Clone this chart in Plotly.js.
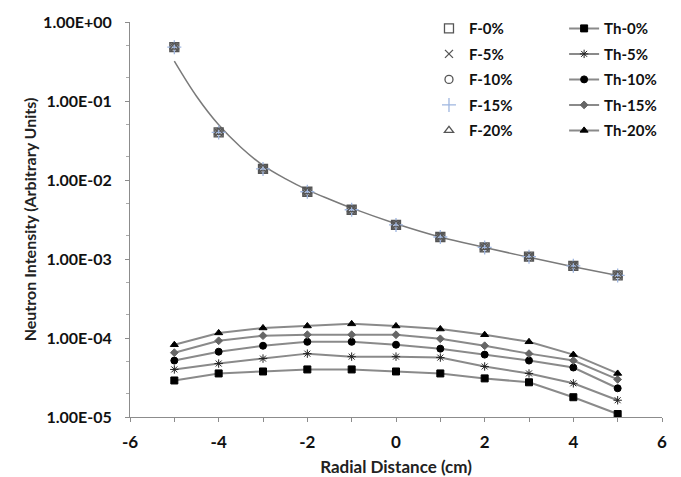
<!DOCTYPE html>
<html>
<head>
<meta charset="utf-8">
<script src="https://cdn.plot.ly/plotly-3.0.1.min.js"></script>
<style>html,body{margin:0;padding:0;background:#fff;}#chart{width:681px;height:477px;}</style>
</head>
<body>
<div id="chart"></div>
<script>
// Radial positions (cm)
const radial = [-5, -4, -3, -2, -1, 0, 1, 2, 3, 4, 5];

// Fast-neutron series (all nearly identical)
const f0  = [0.48, 0.040, 0.0138, 0.0071, 0.0042, 0.0027, 0.00190, 0.00140, 0.00107, 0.00082, 0.00062];
const f5  = [0.48, 0.040, 0.0138, 0.0071, 0.0042, 0.0027, 0.00190, 0.00140, 0.00107, 0.00082, 0.00062];
const f10 = [0.48, 0.040, 0.0138, 0.0071, 0.0042, 0.0027, 0.00190, 0.00140, 0.00107, 0.00082, 0.00062];
const f15 = [0.48, 0.040, 0.0138, 0.0071, 0.0042, 0.0027, 0.00190, 0.00140, 0.00107, 0.00082, 0.00062];
const f20 = [0.48, 0.040, 0.0138, 0.0071, 0.0042, 0.0027, 0.00190, 0.00140, 0.00107, 0.00082, 0.00062];

// Trend curve
const trendX = [-5, -4.5, -4, -3.5, -3, -2.5, -2, -1.5, -1, 0, 1, 2, 3, 4, 5];
const trendY = [0.32, 0.115, 0.050, 0.026, 0.0153, 0.0104, 0.0075, 0.0057, 0.0044, 0.0028, 0.0019, 0.0014, 0.00105, 0.00080, 0.00062];

// Thermal-neutron series
const th0  = [2.9e-5, 3.56e-5, 3.77e-5, 4.0e-5, 4.0e-5, 3.77e-5, 3.56e-5, 3.08e-5, 2.75e-5, 1.78e-5, 1.09e-5];
const th5  = [4.0e-5, 4.75e-5, 5.49e-5, 6.34e-5, 5.81e-5, 5.81e-5, 5.65e-5, 4.36e-5, 3.56e-5, 2.67e-5, 1.63e-5];
const th10 = [5.18e-5, 6.71e-5, 7.98e-5, 8.95e-5, 8.95e-5, 8.22e-5, 7.33e-5, 6.16e-5, 5.18e-5, 4.23e-5, 2.31e-5];
const th15 = [6.52e-5, 9.22e-5, 1.07e-4, 1.10e-4, 1.10e-4, 1.10e-4, 9.77e-5, 7.98e-5, 6.34e-5, 5.18e-5, 2.99e-5];
const th20 = [8.22e-5, 1.16e-4, 1.34e-4, 1.42e-4, 1.51e-4, 1.42e-4, 1.30e-4, 1.10e-4, 8.95e-5, 6.16e-5, 3.56e-5];

// Axis ticks
const yTickVals = [1e-5, 1e-4, 1e-3, 1e-2, 1e-1, 1];
const yTickText = ['1.00E-05', '1.00E-04', '1.00E-03', '1.00E-02', '1.00E-01', '1.00E+00'];
const xTickVals = [-6, -4, -2, 0, 2, 4, 6];

const FONT = 'Lato, "Open Sans", sans-serif';

function fTrace(name, y, symbol, color, size, grp) {
  return {
    x: radial, y: y, name: name, type: 'scatter', mode: 'markers',
    legend: 'legend', legendgroup: grp,
    marker: {symbol: symbol, size: size, color: color, line: {color: color, width: 1.3}}
  };
}
function thTrace(name, y, symbol, color, size, grp) {
  return {
    x: radial, y: y, name: name, type: 'scatter', mode: 'lines+markers',
    legend: 'legend2', legendgroup: grp,
    line: {color: '#8a8a8a', width: 2},
    marker: {symbol: symbol, size: size, color: color, line: {color: color, width: 1}}
  };
}

const traces = [
  {x: trendX, y: trendY, type: 'scatter', mode: 'lines', showlegend: false,
   line: {color: '#7a7a7a', width: 1.5, shape: 'spline', smoothing: 1}},
  fTrace('F-0%', f0, 'square-open', '#555555', 9, 'a'),
  fTrace('F-5%', f5, 'x-thin-open', '#555555', 8, 'b'),
  fTrace('F-10%', f10, 'circle-open', '#555555', 8, 'c'),
  fTrace('F-15%', f15, 'cross-thin-open', '#9fb6e0', 10, 'd'),
  fTrace('F-20%', f20, 'triangle-up-open', '#555555', 8, 'e'),
  thTrace('Th-0%', th0, 'square', '#000000', 7, 'a2'),
  thTrace('Th-5%', th5, 'asterisk-open', '#222222', 7, 'b2'),
  thTrace('Th-10%', th10, 'circle', '#000000', 7, 'c2'),
  thTrace('Th-15%', th15, 'diamond', '#666666', 6, 'd2'),
  thTrace('Th-20%', th20, 'triangle-up', '#000000', 7, 'e2')
];

const legendCommon = {
  yanchor: 'top', xanchor: 'left', y: 1.025,
  bgcolor: 'rgba(0,0,0,0)', borderwidth: 0,
  tracegroupgap: 3, itemwidth: 30,
  font: {family: FONT, size: 15, color: '#111', weight: 'bold'}
};

const layout = {
  width: 681, height: 477,
  margin: {l: 130, r: 19, t: 18, b: 60},
  paper_bgcolor: '#ffffff', plot_bgcolor: '#ffffff',
  font: {family: FONT, color: '#111'},
  showlegend: true,
  legend: Object.assign({}, legendCommon, {x: 0.562}),
  legend2: Object.assign({}, legendCommon, {x: 0.816}),
  xaxis: {
    range: [-6, 6], tickvals: xTickVals, ticktext: xTickVals.map(String),
    showgrid: false, zeroline: false, showline: true, linecolor: '#8c8c8c', linewidth: 1,
    ticks: 'outside', ticklen: 4, tickcolor: '#8c8c8c', ticklabelstandoff: 6,
    minor: {dtick: 1, tick0: -5, ticks: 'outside', ticklen: 4, tickcolor: '#8c8c8c'},
    tickfont: {family: FONT, size: 17, color: '#111', weight: 'bold'},
    title: {text: 'Radial Distance (cm)', standoff: 9,
            font: {family: FONT, size: 17, color: '#222', weight: 'bold'}}
  },
  yaxis: {
    type: 'log', range: [-5, 0], tickvals: yTickVals, ticktext: yTickText,
    showgrid: false, zeroline: false, showline: true, linecolor: '#8c8c8c', linewidth: 1,
    ticks: 'outside', ticklen: 4, tickcolor: '#8c8c8c', ticklabelstandoff: 10,
    minor: {ticks: 'outside', ticklen: 3, tickcolor: '#aaaaaa'},
    tickfont: {family: FONT, size: 16, color: '#111', weight: 'bold'},
    title: {text: 'Neutron Intensity (Arbitrary Units)', standoff: 2,
            font: {family: FONT, size: 16, color: '#222', weight: 'bold'}}
  }
};

Plotly.newPlot('chart', traces, layout, {displayModeBar: false, staticPlot: true});
</script>
</body>
</html>
